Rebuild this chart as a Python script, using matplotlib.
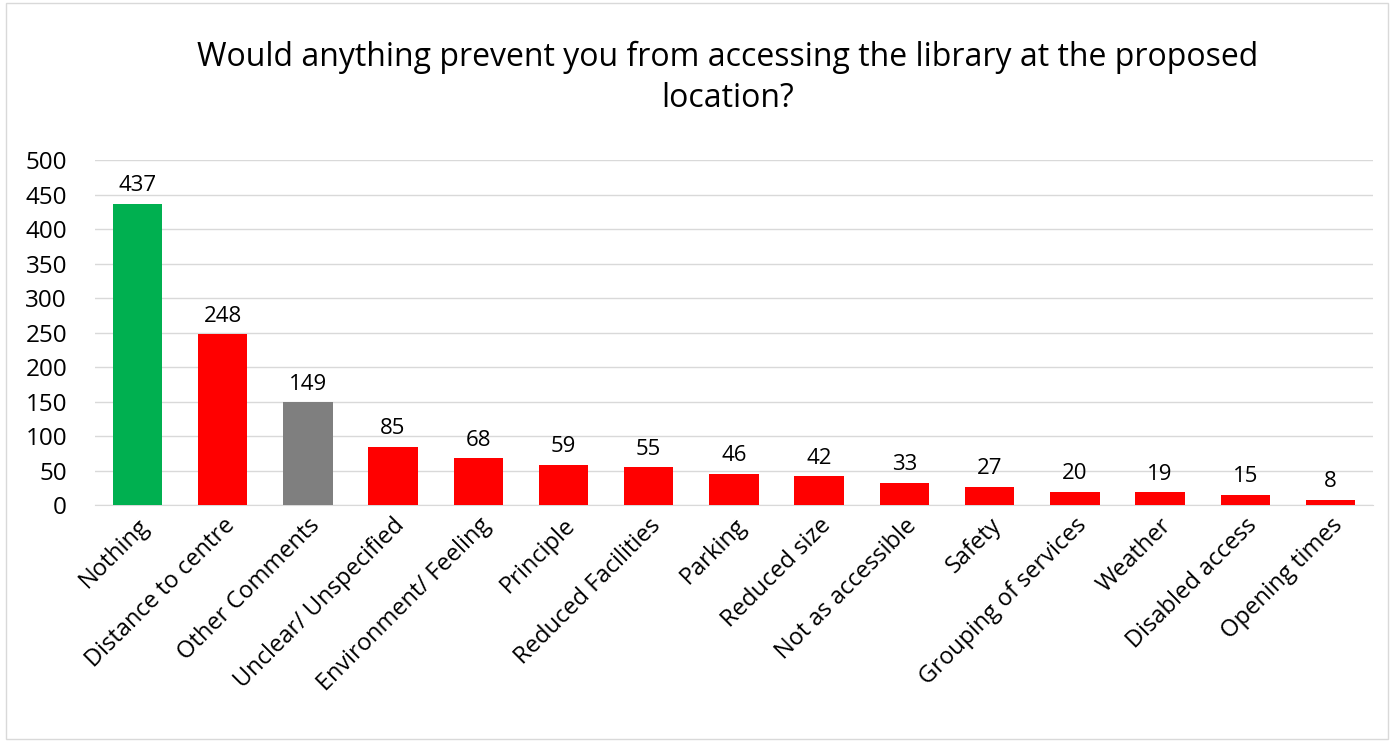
import matplotlib.pyplot as plt
from matplotlib.patches import Rectangle

# --- Data ---
categories = ['Nothing', 'Distance to centre', 'Other Comments', 'Unclear/ Unspecified',
              'Environment/ Feeling', 'Principle', 'Reduced Facilities', 'Parking',
              'Reduced size', 'Not as accessible', 'Safety', 'Grouping of services',
              'Weather', 'Disabled access', 'Opening times']
counts = [437, 248, 149, 85, 68, 59, 55, 46, 42, 33, 27, 20, 19, 15, 8]
bar_colors = ['#00B050', '#FF0000', '#7F7F7F'] + ['#FF0000'] * 12
y_ticks = [0, 50, 100, 150, 200, 250, 300, 350, 400, 450, 500]

plt.rcParams['font.family'] = ['Open Sans', 'DejaVu Sans']

fig = plt.figure(figsize=(13.94, 7.42), dpi=100)
ax = fig.add_axes([0.068, 0.319, 0.917, 0.465])

x = range(len(categories))
ax.bar(x, counts, width=0.58, color=bar_colors, zorder=3)
for i, v in enumerate(counts):
    ax.text(i, v + 11, str(v), ha='center', va='bottom', fontsize=16)

ax.set_xlim(-0.5, len(categories) - 0.5)
ax.set_ylim(0, 500)
ax.set_yticks(y_ticks)
ax.set_yticklabels([str(t) for t in y_ticks], fontsize=17.5)
ax.set_xticks(list(x))
ax.set_xticklabels(categories, rotation=45, ha='right', rotation_mode='anchor', fontsize=17)
ax.tick_params(axis='y', length=0, pad=20)
ax.tick_params(axis='x', length=0, pad=6)
ax.grid(axis='y', color='#D9D9D9', linewidth=1, zorder=0)
for s in ['top', 'right', 'left']:
    ax.spines[s].set_visible(False)
ax.spines['bottom'].set_color('#D9D9D9')

fig.text(0.522, 0.895, 'Would anything prevent you from accessing the library at the proposed\nlocation?',
         ha='center', va='center', fontsize=23, linespacing=1.3)

fig.patches.append(Rectangle((0.004, 0.004), 0.992, 0.992, transform=fig.transFigure,
                             fill=False, edgecolor='#D9D9D9', linewidth=1))

fig.savefig('out.png', dpi=100)
